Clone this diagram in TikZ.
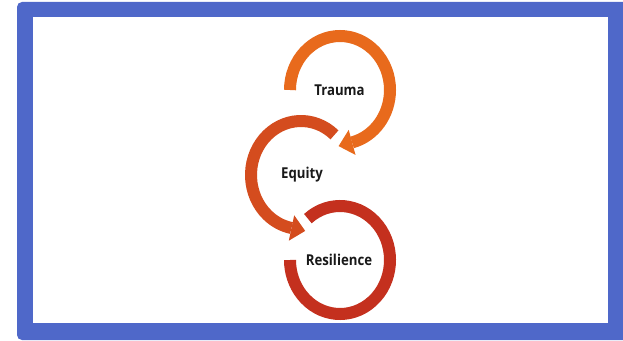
\documentclass[tikz,border=0pt]{standalone}
\usepackage{fontspec}
\setmainfont{Open Sans}
\usetikzlibrary{calc}
\definecolor{frameblue}{RGB}{79,104,201}
\definecolor{ctrauma}{RGB}{232,106,28}
\definecolor{cequity}{RGB}{212,76,30}
\definecolor{cresil}{RGB}{196,48,30}
\definecolor{txt}{RGB}{25,25,25}
\begin{document}
\begin{tikzpicture}[x=1pt,y=1pt,
  ring/.style={line width=12pt},
  label/.style={font=\fontsize{15}{17}\selectfont\bfseries, text=txt, inner sep=0pt, xscale=0.88}]
\useasboundingbox (0,0) rectangle (623,340);
% frame
\fill[frameblue, rounded corners=5pt] (17,0) rectangle (630,338);
\fill[white] (33,17) rectangle (608,323);
% centres
\coordinate (cT) at (340,250);
\coordinate (cE) at (301,165);
\coordinate (cR) at (340,80);
% Trauma ring: clockwise from 180 to -76
\draw[ring, ctrauma] ($(cT)+(180:50 and 54)$) arc[start angle=180, end angle=-76, x radius=50, y radius=54];
\fill[ctrauma] (355.5,185.1) -- (338.6,193.9) -- (348.7,210.1) -- cycle;
% Equity ring: counter-clockwise from 48 to 259
\draw[ring, cequity] ($(cE)+(48:50 and 54)$) arc[start angle=48, end angle=259, x radius=50, y radius=54];
\fill[cequity] (294.2,124.7) -- (305.2,109.1) -- (288.8,99.3) -- cycle;
% Resilience ring: clockwise from 130 to -180
\draw[ring, cresil] ($(cR)+(130:50 and 54)$) arc[start angle=130, end angle=-180, x radius=50, y radius=54];
% labels
\node[label] (trauma) at (339.5,250) {Trauma};
\node[label] (equity) at (302,165) {Equity};
\node[label] (resil) at (339,80) {Resilience};
\end{tikzpicture}
\end{document}
